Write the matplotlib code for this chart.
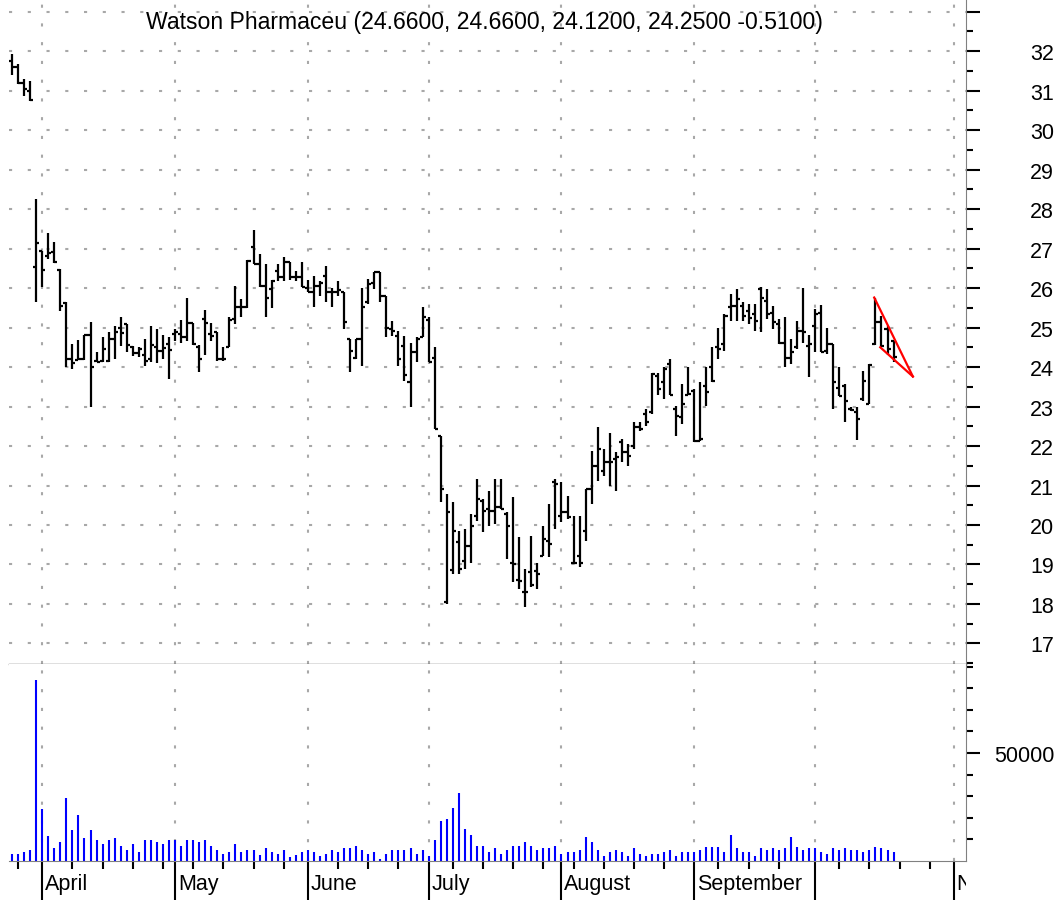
import matplotlib
matplotlib.use('Agg')
import matplotlib.pyplot as plt
from matplotlib.ticker import MultipleLocator, FixedLocator

plt.rcParams['font.family'] = ['Liberation Sans', 'DejaVu Sans']

# 日线数据 (O/H/L/C)，按交易日序号排列
opens = [31.75, 31.60, 31.20, 31.00, 26.54, 26.94, 26.80, 26.92, 26.46, 25.63,
         24.20, 24.18, 24.20, 24.80, 24.15, 24.15, 24.15, 24.70, 25.00, 25.08,
         24.50, 24.35, 24.30, 24.20, 24.50, 24.40, 24.58, 24.84, 24.84, 24.75,
         25.12, 24.50, 25.22, 24.84, 24.88, 24.20, 24.50, 25.22, 25.51, 25.51,
         27.03, 26.61, 26.06, 25.97, 26.44, 26.27, 26.65, 26.27, 26.27, 26.00,
         25.89, 26.06, 26.31, 25.89, 25.89, 25.89, 24.71, 24.24, 24.71, 25.64,
         26.14, 26.40, 25.80, 24.96, 24.79, 24.54, 23.61, 24.37, 24.75, 25.20,
         24.24, 22.26, 18.05, 18.85, 19.56, 19.10, 19.48, 20.24, 20.60, 20.40,
         20.36, 20.45, 20.28, 19.05, 18.60, 18.30, 18.80, 18.84, 19.22, 19.60,
         21.08, 20.24, 20.32, 19.05, 19.22, 19.86, 20.91, 21.50, 21.37, 21.59,
         21.67, 22.09, 21.84, 22.00, 22.47, 22.81, 22.85, 23.78, 23.61, 24.07,
         22.94, 22.73, 23.28, 23.40, 22.13, 23.53, 23.99, 24.50, 24.58, 25.51,
         25.55, 25.55, 25.43, 25.34, 25.97, 25.68, 25.38, 25.09, 24.62, 24.24,
         24.50, 24.92, 24.54, 25.05, 25.38, 24.40, 24.58, 23.48, 23.53, 22.95,
         22.85, 23.19, 23.06, 24.58, 25.13, 24.96, 24.66]
highs = [31.92, 31.67, 31.29, 31.24, 28.25, 26.94, 27.39, 27.16, 26.48, 25.65,
         24.58, 24.69, 24.81, 25.14, 24.37, 24.75, 24.88, 25.05, 25.27, 25.08,
         24.54, 24.50, 24.70, 25.05, 24.97, 24.80, 24.75, 24.97, 25.20, 25.76,
         25.12, 24.55, 25.45, 25.12, 24.88, 24.50, 25.26, 26.06, 25.72, 26.70,
         27.48, 26.86, 26.60, 26.20, 26.60, 26.78, 26.65, 26.44, 26.65, 26.20,
         26.31, 26.18, 26.56, 26.00, 26.18, 25.89, 24.71, 24.71, 26.00, 26.23,
         26.40, 26.40, 25.80, 25.17, 24.92, 24.79, 24.62, 24.75, 25.51, 25.26,
         24.50, 22.26, 20.78, 20.57, 19.86, 19.90, 20.28, 21.16, 20.66, 20.87,
         21.16, 21.16, 20.32, 20.70, 19.69, 18.89, 19.73, 19.05, 19.98, 20.53,
         21.16, 21.08, 20.74, 20.24, 20.24, 20.91, 21.88, 22.47, 21.92, 22.34,
         21.84, 22.18, 22.05, 22.60, 22.60, 22.94, 23.86, 23.86, 23.99, 24.20,
         23.02, 23.57, 23.99, 23.44, 23.61, 23.99, 24.50, 25.00, 25.34, 25.85,
         25.97, 25.64, 25.59, 25.59, 26.02, 25.97, 25.55, 25.21, 25.26, 24.71,
         25.17, 26.00, 24.80, 25.48, 25.57, 25.00, 24.58, 23.99, 23.57, 23.00,
         22.98, 23.90, 24.08, 25.76, 25.30, 25.05, 24.66]
lows = [31.40, 31.16, 30.86, 30.73, 25.65, 26.03, 26.73, 26.63, 25.43, 24.00,
        23.95, 24.18, 24.18, 22.98, 24.13, 24.13, 24.13, 24.20, 24.54, 24.37,
        24.28, 24.25, 24.03, 24.12, 24.10, 24.20, 23.70, 24.65, 24.60, 24.65,
        24.55, 23.87, 24.30, 24.65, 24.16, 24.16, 24.50, 25.10, 25.26, 25.50,
        26.60, 26.02, 25.26, 25.50, 26.17, 26.17, 26.20, 26.19, 26.02, 25.89,
        25.51, 25.80, 25.64, 25.51, 25.80, 24.96, 23.87, 24.20, 24.03, 25.60,
        25.97, 25.64, 24.75, 24.79, 24.03, 23.65, 22.98, 24.12, 24.75, 24.12,
        22.43, 20.57, 18.00, 18.76, 18.76, 18.89, 19.05, 20.11, 19.82, 19.98,
        20.03, 20.40, 19.14, 18.55, 18.38, 17.92, 18.42, 18.38, 19.22, 19.18,
        19.90, 20.07, 20.15, 19.05, 18.93, 19.60, 20.53, 21.12, 21.25, 21.00,
        20.87, 21.59, 21.50, 21.92, 22.39, 22.51, 22.81, 23.28, 23.19, 23.28,
        22.26, 22.56, 23.28, 22.09, 22.13, 23.02, 23.61, 24.20, 24.41, 25.17,
        25.17, 25.17, 25.09, 24.92, 24.88, 25.21, 24.96, 24.58, 23.99, 24.08,
        24.46, 24.62, 23.74, 24.37, 24.37, 24.33, 22.94, 23.27, 22.60, 22.88,
        22.14, 23.15, 23.06, 24.55, 24.50, 24.30, 24.12]
closes = [31.60, 31.20, 31.05, 30.75, 27.14, 26.46, 26.89, 26.65, 25.55, 24.20,
          24.10, 24.20, 24.80, 24.00, 24.13, 24.45, 24.70, 24.90, 24.86, 24.56,
          24.35, 24.45, 24.15, 24.55, 24.40, 24.48, 24.42, 24.90, 24.75, 25.12,
          24.58, 24.20, 25.12, 24.78, 24.20, 24.20, 25.20, 25.51, 25.51, 26.69,
          26.61, 26.06, 25.76, 26.19, 26.27, 26.65, 26.27, 26.27, 26.02, 25.89,
          26.06, 26.14, 25.89, 25.89, 25.95, 25.13, 24.41, 24.71, 25.51, 26.10,
          26.40, 25.80, 25.00, 24.92, 24.20, 23.80, 24.37, 24.71, 25.26, 24.12,
          22.43, 20.91, 20.32, 19.86, 18.89, 19.48, 19.98, 20.66, 20.36, 20.36,
          20.45, 20.40, 19.98, 19.00, 18.59, 18.30, 18.47, 18.76, 19.65, 19.52,
          21.04, 20.32, 20.20, 19.05, 19.05, 20.91, 21.50, 21.92, 21.59, 21.59,
          21.71, 21.84, 21.75, 22.47, 22.43, 22.60, 23.82, 23.44, 23.95, 23.28,
          22.77, 23.06, 23.32, 22.13, 22.18, 23.36, 23.65, 24.46, 25.30, 25.55,
          25.72, 25.30, 25.25, 25.17, 25.76, 25.34, 25.13, 24.62, 24.24, 24.37,
          24.92, 24.88, 24.58, 25.34, 24.37, 24.58, 23.61, 23.27, 23.15, 22.90,
          22.69, 23.65, 24.05, 25.13, 24.54, 24.45, 24.25]
volumes = [3400, 3400, 4300, 5200, 83600, 23900, 11400, 6200, 8800, 29300,
           14200, 21100, 10600, 14200, 9600, 7900, 9600, 10500, 6900, 5200,
           7900, 4300, 9600, 9600, 8800, 7900, 9600, 9600, 6900, 9600,
           9600, 8800, 9600, 6900, 5200, 3400, 4300, 7900, 4300, 5200,
           5200, 2600, 6200, 4300, 3400, 5200, 1700, 2600, 4300, 5200,
           4000, 2200, 3200, 5100, 4000, 5900, 5900, 6800, 5100, 3200,
           4000, 800, 3200, 5100, 5100, 5100, 5900, 3200, 5100, 2300,
           9600, 18400, 19300, 24500, 31600, 14800, 12000, 6800, 6800, 4000,
           5900, 3200, 5100, 6800, 6800, 8600, 6800, 5100, 5900, 5900,
           6800, 3200, 4000, 4000, 5100, 11300, 8600, 5100, 2300, 4000,
           4900, 4000, 2300, 5900, 3100, 2300, 3100, 3100, 4000, 4900,
           2300, 4000, 4000, 4000, 4900, 6600, 6600, 6600, 4000, 12000,
           5900, 4000, 4000, 2300, 5900, 4900, 5900, 4900, 5900, 11300,
           6600, 4900, 5900, 5900, 4000, 3100, 5900, 4900, 5900, 4900,
           4900, 4000, 4900, 6600, 5900, 4900, 4000]

# 月份分界 (交易日序号) 与周刻度
month_pos = [5, 27, 49, 69, 91, 113, 133, 156]
month_names = ['April', 'May', 'June', 'July', 'August', 'September', '', 'November']
week_pos = [1, 10, 15, 20, 25, 30, 35, 40, 45, 54, 59, 64, 73, 78, 83, 88, 93,
            98, 103, 108, 117, 122, 127, 137, 142, 147, 152]

# 红色三角形趋势线
trend_x = [142.8, 149.2, 143.8]
trend_y = [25.76, 23.76, 24.50]

title = 'Watson Pharmaceu (24.6600, 24.6600, 24.1200, 24.2500 -0.5100)'

W, H = 1063, 903
fig = plt.figure(figsize=(W / 100, H / 100), dpi=100)
left_px, right_px = 9, 966
ax = fig.add_axes([left_px / W, (H - 665) / H, (right_px - left_px) / W, 665 / H])
vax = fig.add_axes([left_px / W, (H - 862) / H, (right_px - left_px) / W, (862 - 665) / H])
# 月份文字单独放一个坐标轴，便于裁剪
lax = fig.add_axes([left_px / W, 0, (right_px - left_px) / W, (H - 862) / H])
lax.set_axis_off()

idx = list(range(len(opens)))
grid_kw = dict(color='#a8a8a8', linewidth=1.5, linestyle=(0, (1.5, 7.5)))

# 价格 OHLC
ax.vlines(idx, lows, highs, color='black', linewidth=1.6)
ax.hlines(opens, [i - 0.5 for i in idx], idx, color='black', linewidth=1.6)
ax.hlines(closes, idx, [i + 0.5 for i in idx], color='black', linewidth=1.6)
ax.plot(trend_x[:2], trend_y[:2], color='red', linewidth=1.6)
ax.plot(trend_x[1:], trend_y[1:], color='red', linewidth=1.6)

ax.set_xlim(-0.5, 158.0)
ax.set_ylim(16.48, 33.32)
ax.set_xticks(month_pos)
ax.tick_params(axis='x', length=0, labelbottom=False)
ax.xaxis.grid(True, **grid_kw)
ax.yaxis.tick_right()
ax.set_yticks(list(range(17, 34)), [str(v) for v in range(17, 33)] + [''])
ax.yaxis.set_minor_locator(MultipleLocator(0.5))
ax.tick_params(axis='y', which='major', length=10, width=1.5, pad=53.5, labelsize=15.5)
ax.tick_params(axis='y', which='minor', length=5, width=1.5)
for lab in ax.get_yticklabels():
    lab.set_horizontalalignment('right')
ax.yaxis.grid(True, which='major', **grid_kw)
for s in ['left', 'top']:
    ax.spines[s].set_visible(False)
ax.spines['right'].set_color('#808080')
ax.spines['bottom'].set_color('#606060')
ax.spines['bottom'].set_linewidth(1.0)
ax.text(0.497, 1 - 22 / 665, title, transform=ax.transAxes, ha='center', va='center', fontsize=16.6)

# 成交量
vax.vlines(idx, 0, volumes, color='#0000ff', linewidth=1.5)
vax.set_xlim(-0.5, 158.0)
vax.set_ylim(0, 91200)
vax.yaxis.tick_right()
vax.set_yticks([50000], ['50000'])
vax.yaxis.set_minor_locator(FixedLocator([10000, 20000, 30000, 40000, 60000, 70000, 80000, 90000]))
vax.tick_params(axis='y', which='major', length=10, width=1.5, pad=53.5, labelsize=15.5)
vax.tick_params(axis='y', which='minor', length=5, width=1.5)
for lab in vax.get_yticklabels():
    lab.set_horizontalalignment('right')
vax.set_xticks(month_pos)
vax.set_xticks(week_pos, minor=True)
vax.tick_params(axis='x', which='major', length=28, width=1.5, labelbottom=False)
vax.tick_params(axis='x', which='minor', length=6, width=1.5)
vax.xaxis.grid(True, which='major', **grid_kw)
for s in ['left', 'top']:
    vax.spines[s].set_visible(False)
vax.spines['right'].set_color('#808080')
vax.spines['bottom'].set_color('#808080')

lax.set_xlim(-0.5, 158.0)
lax.set_ylim(0, 1)
for pos, name in zip(month_pos, month_names):
    lax.text(pos + 0.45, 18 / 41, name, ha='left', va='center', fontsize=15.5, clip_on=True)

fig.savefig('out.png', dpi=100)
